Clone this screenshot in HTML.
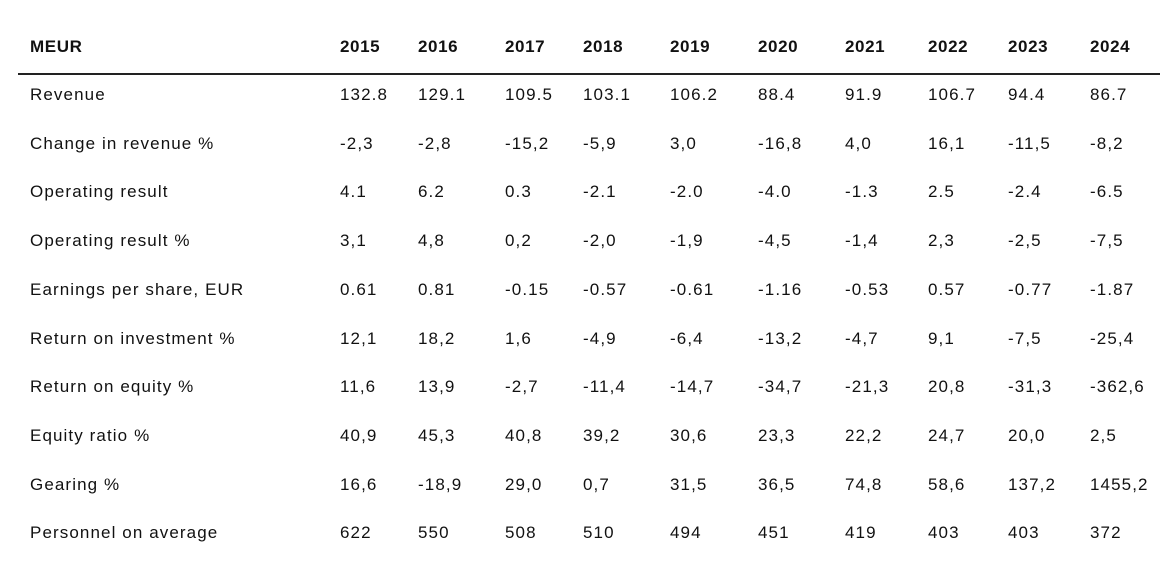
<!DOCTYPE html>
<html><head><meta charset="utf-8"><style>
body{margin:0;width:1175px;height:578px;background:#fff;font-family:"Liberation Sans",sans-serif;color:#111;position:relative;overflow:hidden}
.c{position:absolute;font-size:17px;white-space:nowrap;line-height:20px;letter-spacing:1.1px}
.h{font-weight:bold;letter-spacing:0.6px}
#rule{position:absolute;left:18px;top:73px;width:1142px;height:2px;background:#222}
</style></head><body>
<div id="rule"></div>
<div id="t"></div>
<script>
const years=["2015","2016","2017","2018","2019","2020","2021","2022","2023","2024"];
const labels=["Revenue","Change in revenue %","Operating result","Operating result %","Earnings per share, EUR","Return on investment %","Return on equity %","Equity ratio %","Gearing %","Personnel on average"];
const rows=[
["132.8","129.1","109.5","103.1","106.2","88.4","91.9","106.7","94.4","86.7"],
["-2,3","-2,8","-15,2","-5,9","3,0","-16,8","4,0","16,1","-11,5","-8,2"],
["4.1","6.2","0.3","-2.1","-2.0","-4.0","-1.3","2.5","-2.4","-6.5"],
["3,1","4,8","0,2","-2,0","-1,9","-4,5","-1,4","2,3","-2,5","-7,5"],
["0.61","0.81","-0.15","-0.57","-0.61","-1.16","-0.53","0.57","-0.77","-1.87"],
["12,1","18,2","1,6","-4,9","-6,4","-13,2","-4,7","9,1","-7,5","-25,4"],
["11,6","13,9","-2,7","-11,4","-14,7","-34,7","-21,3","20,8","-31,3","-362,6"],
["40,9","45,3","40,8","39,2","30,6","23,3","22,2","24,7","20,0","2,5"],
["16,6","-18,9","29,0","0,7","31,5","36,5","74,8","58,6","137,2","1455,2"],
["622","550","508","510","494","451","419","403","403","372"]];
const colX=[340,418,505,583,670,758,845,928,1008,1090];
const t=document.getElementById('t');
function cell(txt,x,y,cls,name){const d=document.createElement('div');d.className='c '+cls;d.style.left=x+'px';d.style.top=(y-9)+'px';d.textContent=txt;


t.appendChild(d);}
cell("MEUR",30,46,"h","header-meur");
years.forEach((y,i)=>cell(y,colX[i],46,"h","header-"+y));
labels.forEach((l,r)=>{const y=94+r*48.7;
cell(l,30,y,"","row-label-"+r);
rows[r].forEach((v,i)=>cell(v,colX[i],y,"","cell-"+r+"-"+years[i]));});
</script>
</body></html>
